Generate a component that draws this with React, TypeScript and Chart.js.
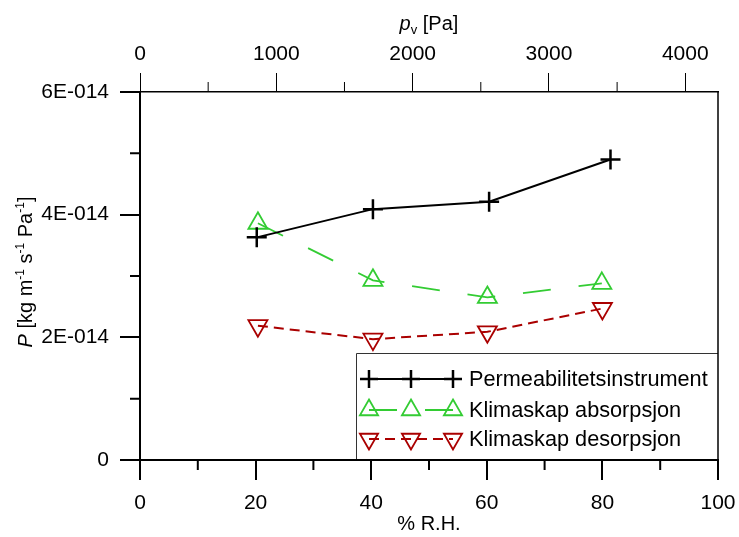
import React, { useEffect, useRef } from 'react';
import { Chart, registerables } from 'chart.js';
import { drawPoint } from 'chart.js/helpers';

Chart.register(...registerables);

// ---- data ----
const rhPerm = [20.2, 40.3, 60.4, 81.4];
const pPerm = [3.63e-14, 4.09e-14, 4.21e-14, 4.9e-14];
const rhAbs = [20.4, 40.3, 60.1, 79.9];
const pAbs = [3.86e-14, 2.93e-14, 2.65e-14, 2.88e-14];
const rhDes = [20.4, 40.3, 60.1, 80.0];
const pDes = [2.19e-14, 1.97e-14, 2.09e-14, 2.47e-14];
const seriesLabels = ['Permeabilitetsinstrument', 'Klimaskap absorpsjon', 'Klimaskap desorpsjon'];

const xTicks = [0, 20, 40, 60, 80, 100];
const xMinorTicks = [10, 30, 50, 70, 90];
const yTicks = [0, 2e-14, 4e-14, 6e-14];
const yMinorTicks = [1e-14, 3e-14, 5e-14];
const pvTicks = [0, 1000, 2000, 3000, 4000];
const pvMinorTicks = [500, 1500, 2500, 3500];
const pvMax = 4240;

const FONT = 'Arial, "Liberation Sans", sans-serif';
const GREEN = '#33cc33';
const RED = '#aa0000';

function fmtY(v: number): string {
  if (v === 0) return '0';
  return `${Math.round(v / 1e-14)}E-014`;
}

type Run = { t: string; size: number; italic?: boolean; dy?: number };

function drawRuns(ctx: CanvasRenderingContext2D, runs: Run[], cx: number, cy: number) {
  let total = 0;
  for (const r of runs) {
    ctx.font = `${r.italic ? 'italic ' : ''}${r.size}px ${FONT}`;
    total += ctx.measureText(r.t).width;
  }
  let x = cx - total / 2;
  ctx.textBaseline = 'alphabetic';
  ctx.textAlign = 'left';
  for (const r of runs) {
    ctx.font = `${r.italic ? 'italic ' : ''}${r.size}px ${FONT}`;
    ctx.fillText(r.t, x, cy + (r.dy || 0));
    x += ctx.measureText(r.t).width;
  }
}

const decorPlugin = {
  id: 'decor',
  afterDraw(chart: any) {
    const ctx: CanvasRenderingContext2D = chart.ctx;
    const area = chart.chartArea;
    const sx = chart.scales.x;
    const sx2 = chart.scales.x2;
    const sy = chart.scales.y;
    ctx.save();
    ctx.strokeStyle = '#000';
    // right frame
    ctx.lineWidth = 1.5;
    ctx.beginPath();
    ctx.moveTo(area.right, area.top);
    ctx.lineTo(area.right, area.bottom);
    ctx.stroke();
    // minor ticks
    ctx.lineWidth = 2;
    ctx.beginPath();
    for (const v of xMinorTicks) {
      const px = sx.getPixelForValue(v);
      ctx.moveTo(px, area.bottom);
      ctx.lineTo(px, area.bottom + 10);
    }
    for (const v of yMinorTicks) {
      const py = sy.getPixelForValue(v);
      ctx.moveTo(area.left - 10, py);
      ctx.lineTo(area.left, py);
    }
    ctx.stroke();
    ctx.lineWidth = 1;
    ctx.beginPath();
    for (const v of pvMinorTicks) {
      const px = sx2.getPixelForValue(v);
      ctx.moveTo(px, area.top - 10);
      ctx.lineTo(px, area.top);
    }
    ctx.stroke();

    // axis titles
    ctx.fillStyle = '#000';
    const cx = (area.left + area.right) / 2;
    drawRuns(ctx, [
      { t: 'p', size: 20, italic: true },
      { t: 'v', size: 13, dy: 4 },
      { t: ' [Pa]', size: 20 },
    ], cx, 30);
    drawRuns(ctx, [{ t: '% R.H.', size: 20 }], cx, 530);
    ctx.save();
    ctx.translate(32, (area.top + area.bottom) / 2 - 4);
    ctx.rotate(-Math.PI / 2);
    drawRuns(ctx, [
      { t: 'P', size: 20, italic: true },
      { t: ' [kg m', size: 20 },
      { t: '-1', size: 12, dy: -8 },
      { t: ' s', size: 20 },
      { t: '-1', size: 12, dy: -8 },
      { t: ' Pa', size: 20 },
      { t: '-1', size: 12, dy: -8 },
      { t: ']', size: 20 },
    ], 0, 0);
    ctx.restore();
    ctx.restore();
  },
  afterDatasetsDraw(chart: any) {
    const ctx: CanvasRenderingContext2D = chart.ctx;
    const area = chart.chartArea;
    const left = 356.5;
    const top = 353.5;
    const right = area.right;
    const bottom = area.bottom - 1;
    ctx.save();
    ctx.fillStyle = '#fff';
    ctx.fillRect(left, top, right - left, bottom - top);
    ctx.strokeStyle = '#333';
    ctx.lineWidth = 1;
    ctx.beginPath();
    ctx.moveTo(left, bottom);
    ctx.lineTo(left, top);
    ctx.lineTo(right, top);
    ctx.stroke();
    const rows = [379, 410, 439];
    const markerX = [369, 411, 453];
    const lineStart = [360, 369, 369];
    const lineEnd = [458, 453, 453];
    chart.data.datasets.forEach((ds: any, i: number) => {
      const y = rows[i];
      ctx.save();
      ctx.strokeStyle = ds.borderColor;
      ctx.lineWidth = ds.borderWidth;
      ctx.setLineDash(ds.borderDash || []);
      ctx.beginPath();
      ctx.moveTo(lineStart[i], y);
      ctx.lineTo(lineEnd[i], y);
      ctx.stroke();
      ctx.restore();
      for (const mx of markerX) {
        ctx.save();
        ctx.strokeStyle = ds.pointBorderColor;
        ctx.fillStyle = 'rgba(0,0,0,0)';
        ctx.lineWidth = ds.pointBorderWidth;
        drawPoint(ctx, { pointStyle: ds.pointStyle, rotation: ds.pointRotation || 0, radius: i === 0 ? 9 : 10.5, borderWidth: ds.pointBorderWidth }, mx, y);
        ctx.restore();
      }
      ctx.fillStyle = '#000';
      ctx.font = `21.7px ${FONT}`;
      ctx.textAlign = 'left';
      ctx.textBaseline = 'middle';
      ctx.fillText(ds.label, 469, y + 1);
    });
    ctx.restore();
  },
};

export default function App() {
  const ref = useRef<HTMLCanvasElement | null>(null);
  useEffect(() => {
    if (!ref.current) return;
    const mk = (xs: number[], ys: number[]) => xs.map((x, i) => ({ x, y: ys[i] }));
    const tickFont = { family: FONT, size: 21 };
    const chart = new Chart(ref.current, {
      type: 'line',
      data: {
        datasets: [
          {
            label: seriesLabels[0],
            data: mk(rhPerm, pPerm),
            borderColor: '#000',
            backgroundColor: '#000',
            borderWidth: 2,
            pointStyle: 'cross',
            pointRadius: 10,
            pointBorderWidth: 2.5,
            pointBorderColor: '#000',
            pointBackgroundColor: 'rgba(0,0,0,0)',
            xAxisID: 'x',
            yAxisID: 'y',
          },
          {
            label: seriesLabels[1],
            data: mk(rhAbs, pAbs),
            borderColor: GREEN,
            borderWidth: 1.8,
            borderDash: [28, 28],
            pointStyle: 'triangle',
            pointRadius: 11,
            pointBorderWidth: 1.8,
            pointBorderColor: GREEN,
            pointBackgroundColor: 'rgba(0,0,0,0)',
            xAxisID: 'x',
            yAxisID: 'y',
          },
          {
            label: seriesLabels[2],
            data: mk(rhDes, pDes),
            borderColor: RED,
            borderWidth: 2,
            borderDash: [10, 6],
            pointStyle: 'triangle',
            pointRotation: 180,
            pointRadius: 11,
            pointBorderWidth: 1.8,
            pointBorderColor: RED,
            pointBackgroundColor: 'rgba(0,0,0,0)',
            xAxisID: 'x',
            yAxisID: 'y',
          },
        ] as any,
      },
      options: {
        animation: false,
        responsive: true,
        maintainAspectRatio: false,
        layout: { padding: { left: 0, right: 21, top: 0, bottom: 0 } },
        plugins: { legend: { display: false }, tooltip: { enabled: false } },
        scales: {
          x: {
            type: 'linear',
            position: 'bottom',
            min: 0,
            max: 100,
            afterBuildTicks: (s: any) => { s.ticks = xTicks.map((v) => ({ value: v })); },
            afterFit: (s: any) => { s.height = 77; s.paddingLeft = 0; s.paddingRight = 0; },
            grid: { drawOnChartArea: false, tickLength: 20, color: '#000', lineWidth: 2 },
            border: { color: '#000', width: 2 },
            ticks: { color: '#000', font: tickFont, padding: 11, maxRotation: 0, callback: (v: any) => String(v) },
          },
          x2: {
            type: 'linear',
            position: 'top',
            min: 0,
            max: pvMax,
            afterBuildTicks: (s: any) => { s.ticks = pvTicks.map((v) => ({ value: v })); },
            afterFit: (s: any) => { s.height = 92; s.paddingLeft = 0; s.paddingRight = 0; },
            grid: { drawOnChartArea: false, tickLength: 19, color: '#000', lineWidth: 1 },
            border: { color: '#000', width: 1.5 },
            ticks: { color: '#000', font: tickFont, padding: 6, maxRotation: 0, callback: (v: any) => String(v) },
          },
          y: {
            type: 'linear',
            position: 'left',
            min: 0,
            max: 6e-14,
            afterBuildTicks: (s: any) => { s.ticks = yTicks.map((v) => ({ value: v })); },
            afterFit: (s: any) => { s.width = 140; s.paddingTop = 0; s.paddingBottom = 0; },
            grid: { drawOnChartArea: false, tickLength: 20, color: '#000', lineWidth: 2 },
            border: { color: '#000', width: 2 },
            ticks: { color: '#000', font: tickFont, padding: 11, callback: (v: any) => fmtY(Number(v)) },
          },
        },
      } as any,
      plugins: [decorPlugin],
    });
    return () => chart.destroy();
  }, []);
  return (
    <div style={{ position: 'fixed', left: 0, top: 0, width: 739, height: 537, background: '#fff' }}>
      <canvas ref={ref} />
    </div>
  );
}
